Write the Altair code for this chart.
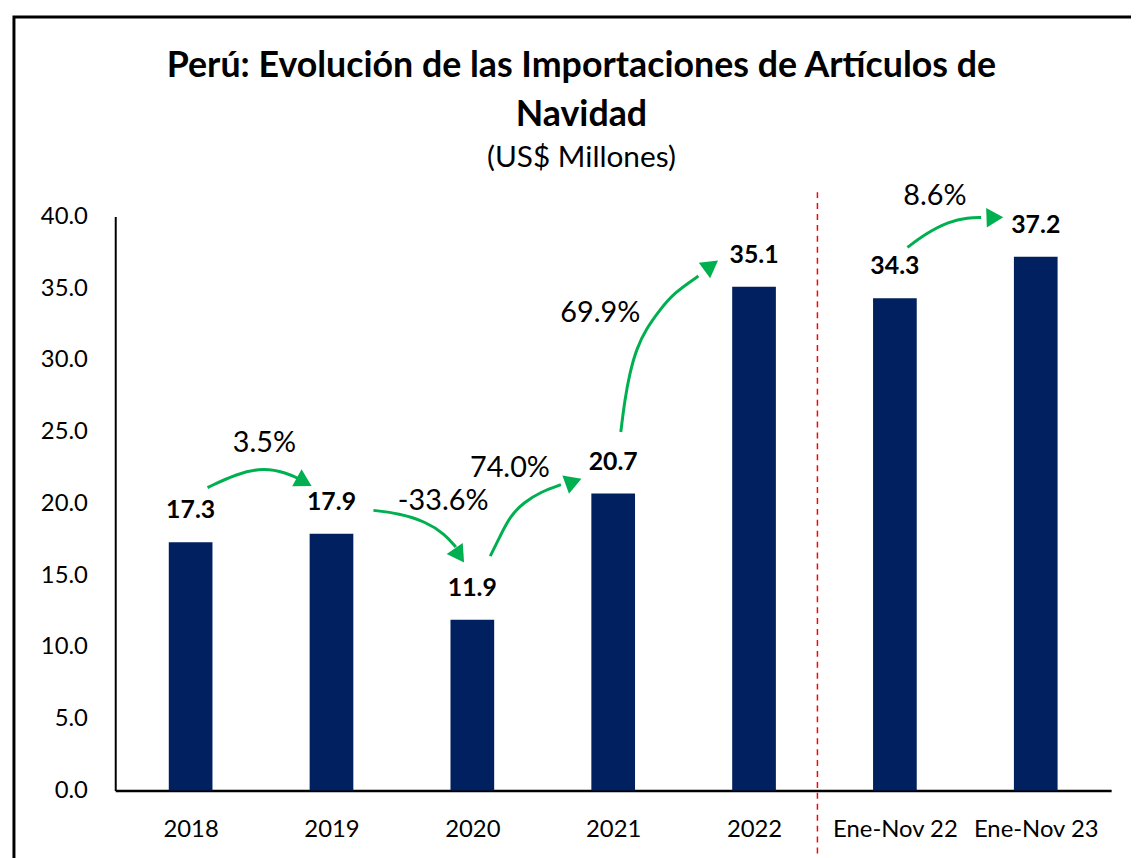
import altair as alt
import pandas as pd

# ---- data ----
categories = ["2018", "2019", "2020", "2021", "2022", "Ene-Nov 22", "Ene-Nov 23"]
values = [17.3, 17.9, 11.9, 20.7, 35.1, 34.3, 37.2]

growth_labels = ["3.5%", "-33.6%", "74.0%", "69.9%", "8.6%"]
growth_label_x = [0.524, 1.793, 2.267, 2.908, 5.284]
growth_label_y = [24.22, 20.14, 22.49, 33.29, 41.45]

arrow1_x = [0.120, 0.329, 0.517, 0.678, 0.782]
arrow1_y = [21.11, 22.08, 22.49, 22.15, 21.66]
arrow2_x = [1.298, 1.479, 1.667, 1.807, 1.883]
arrow2_y = [19.52, 19.31, 18.75, 17.85, 16.96]
arrow3_x = [2.127, 2.197, 2.267, 2.364, 2.490, 2.629]
arrow3_y = [16.33, 17.72, 19.10, 20.07, 20.83, 21.31]
arrow4_x = [3.054, 3.082, 3.117, 3.166, 3.235, 3.326, 3.430, 3.605]
arrow4_y = [24.98, 27.20, 29.07, 30.80, 32.18, 33.43, 34.67, 35.85]
arrow5_x = [5.089, 5.221, 5.382, 5.521, 5.612]
arrow5_y = [37.85, 38.82, 39.65, 39.93, 39.93]

arrow_head_x = [0.789, 1.897, 2.700, 3.680, 5.690]
arrow_head_y = [21.60, 16.54, 21.45, 36.47, 39.93]
arrow_head_angle = [119, 146, 70, 54, 88]

divider_x = 4.45
divider_top = 41.7
divider_bottom = -5.0

# ---- tables ----
bars_df = pd.DataFrame({"idx": list(range(len(categories))), "cat": categories, "val": values})
labels_df = pd.DataFrame({"x": growth_label_x, "y": growth_label_y, "t": growth_labels})
paths = [(arrow1_x, arrow1_y), (arrow2_x, arrow2_y), (arrow3_x, arrow3_y),
         (arrow4_x, arrow4_y), (arrow5_x, arrow5_y)]
rows = []
for k, (xs, ys) in enumerate(paths):
    for j, (a, b) in enumerate(zip(xs, ys)):
        rows.append({"arrow": k, "ord": j, "x": a, "y": b})
arrows_df = pd.DataFrame(rows)
heads_df = pd.DataFrame({"x": arrow_head_x, "y": arrow_head_y, "ang": arrow_head_angle})
div_df = pd.DataFrame({"x": [divider_x], "y": [divider_top], "y2": [divider_bottom]})

label_expr = "[" + ",".join("'" + c + "'" for c in categories) + "][datum.value]"

xscale = alt.Scale(domain=[-0.5, len(categories) - 0.5], nice=False, zero=False)
yscale = alt.Scale(domain=[0, 40], nice=False)

x_axis = alt.Axis(values=list(range(len(categories))), labelExpr=label_expr, title=None,
                  ticks=False, grid=False, labelFontSize=24, labelColor="black",
                  labelPadding=27, domainColor="black", domainWidth=2.5, labelFlush=False)
y_axis = alt.Axis(values=[0, 5, 10, 15, 20, 25, 30, 35, 40], format=".1f", title=None,
                  ticks=False, grid=False, labelFontSize=24, labelColor="black",
                  labelPadding=28, domainColor="black", domainWidth=2)

GREEN = "#00B050"

border = alt.Chart(pd.DataFrame({"a": [0]})).mark_rect(
    fillOpacity=0, stroke="black", strokeWidth=3
).encode(x=alt.value(-102), x2=alt.value(1100), y=alt.value(-201), y2=alt.value(700))

bars = alt.Chart(bars_df).mark_bar(color="#002060", size=44).encode(
    x=alt.X("idx:Q", scale=xscale, axis=x_axis),
    y=alt.Y("val:Q", scale=yscale, axis=y_axis),
)

bar_text = alt.Chart(bars_df).mark_text(
    fontSize=25, fontWeight="bold", color="black", dy=-32, baseline="middle"
).encode(x="idx:Q", y="val:Q", text=alt.Text("val:Q", format=".1f"))

divider = alt.Chart(div_df).mark_rule(
    color="#FF0000", strokeDash=[6, 5], strokeWidth=1.5
).encode(x="x:Q", y="y:Q", y2="y2:Q")

arrow_lines = alt.Chart(arrows_df).mark_line(
    color=GREEN, strokeWidth=3, interpolate="basis"
).encode(x="x:Q", y="y:Q", detail="arrow:N", order="ord:Q")

arrow_heads = alt.Chart(heads_df).mark_point(
    shape="triangle", filled=True, color=GREEN, size=380, opacity=1
).encode(x="x:Q", y="y:Q", angle=alt.Angle("ang:Q", scale=None))

pct_text = alt.Chart(labels_df).mark_text(
    fontSize=29, color="black", baseline="middle"
).encode(x="x:Q", y="y:Q", text="t:N")

chart = alt.layer(
    border, bars, bar_text, divider, arrow_lines, arrow_heads, pct_text
).properties(
    width=1003,
    height=578,
    padding={"left": 108, "top": 207, "right": 20, "bottom": 65},
    autosize=alt.AutoSizeParams(type="none"),
    title=alt.TitleParams(
        text=["Perú: Evolución de las Importaciones de Artículos de", "Navidad"],
        subtitle="(US$ Millones)",
        fontSize=36, fontWeight="bold", color="black", lineHeight=49,
        subtitleFontSize=30, subtitleColor="black", subtitlePadding=10,
        anchor="middle", dx=-32, offset=-160,
    ),
).configure(font="Lato").configure_view(stroke=None)

chart.save("out.html", embed_options={"renderer": "svg", "actions": False})
